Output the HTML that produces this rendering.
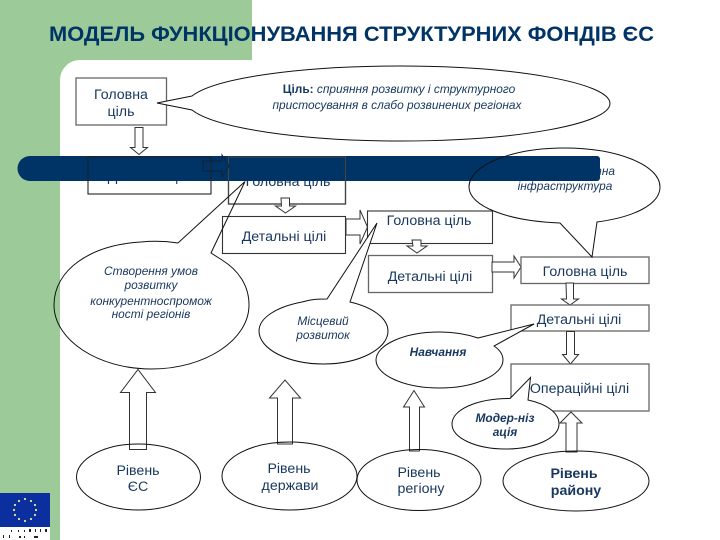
<!DOCTYPE html>
<html><head><meta charset="utf-8"><style>
html,body{margin:0;padding:0;background:#fff}
svg{display:block}
text{font-family:"Liberation Sans",sans-serif;fill:#17375e;text-anchor:middle}
.b{font-size:14.2px}
.i{font-size:11.9px;font-style:italic}
.bi{font-size:11.9px;font-style:italic;font-weight:bold}
.o{fill:none;stroke:#111;stroke-width:1}
.g{fill:#fff;stroke:#666;stroke-width:1.3}
.k{fill:#fff;stroke:#333;stroke-width:1.1}
.ar{fill:#fff;stroke:#333;stroke-width:1}
</style></head><body>
<svg width="720" height="540" viewBox="0 0 720 540" xmlns="http://www.w3.org/2000/svg">
<rect x="0" y="0" width="60" height="540" fill="#9ccb99"/>
<rect x="0" y="0" width="252" height="60" fill="#9ccb99"/>
<path d="M60 60h20a20 20 0 0 0-20 20z" fill="#9ccb99"/>

<text x="351.5" y="41" style="font-size:21px;font-weight:bold;fill:#003366" textLength="605" lengthAdjust="spacingAndGlyphs">МОДЕЛЬ ФУНКЦІОНУВАННЯ СТРУКТУРНИХ ФОНДІВ ЄС</text>

<!-- logo -->
<rect x="0" y="493" width="50" height="34" fill="#0b2f9e"/>
<rect x="0" y="527" width="50" height="13" fill="#fff"/>
<g fill="#dfe98a"><circle cx="25" cy="499" r="1.1"/><circle cx="31" cy="501" r="1.1"/><circle cx="35" cy="505" r="1.1"/><circle cx="36" cy="510" r="1.1"/><circle cx="35" cy="515" r="1.1"/><circle cx="31" cy="519" r="1.1"/><circle cx="25" cy="521" r="1.1"/><circle cx="19" cy="519" r="1.1"/><circle cx="15" cy="515" r="1.1"/><circle cx="14" cy="510" r="1.1"/><circle cx="15" cy="505" r="1.1"/><circle cx="19" cy="501" r="1.1"/></g>
<g fill="#222"><rect x="11" y="530" width="1" height="2"/><rect x="18" y="530" width="1" height="2"/><rect x="24" y="530" width="1" height="2"/><rect x="29" y="529" width="2" height="3"/><rect x="35" y="529" width="1" height="3"/><rect x="40" y="529" width="1" height="3"/><rect x="45" y="529" width="2" height="3"/><rect x="3" y="535" width="1" height="3"/><rect x="9" y="535" width="1" height="3"/><rect x="19" y="536" width="2" height="2"/><rect x="24" y="536" width="1" height="2"/><rect x="34" y="536" width="4" height="2"/></g>

<!-- top -->
<rect class="g" x="76" y="78" width="90.5" height="47"/>
<text class="b" x="121" y="99">Головна</text>
<text class="b" x="121" y="116">ціль</text>
<path class="ar" d="M135 127.5h8v20h4.5l-8.500 7-8.500-7h4.500z"/>
<path class="o" style="fill:#fff" d="M157 103L192 96C215 78 300 66 400 66C516 66 610 83 610 103.500C610 124 516 141 400 141C300 141 215 128 192 110Z"/>
<text class="i" x="399" y="93"><tspan style="font-weight:bold;font-style:normal">Ціль: </tspan>сприяння розвитку і структурного</text>
<text class="i" x="397" y="109">пристосування в слабо розвинених регіонах</text>

<!-- boxes beneath the bar -->
<rect class="k" x="88" y="157" width="123" height="37"/>
<text class="b" x="150" y="181">Детальні цілі</text>
<rect class="g" x="228.500" y="157" width="117" height="47"/>
<text class="b" x="288" y="186">Головна ціль</text>
<text class="i" x="615" y="175" style="text-anchor:end">Транспортна</text>
<text class="i" x="565" y="190">інфраструктура</text>

<!-- bar -->
<path d="M30 156H597a3 3 0 0 1 3 3V178a3 3 0 0 1-3 3H30a12.500 12.500 0 0 1 0-25z" fill="#003366"/>

<!-- outlines over bar -->
<rect x="88" y="157" width="123" height="37" fill="none" stroke="#222" stroke-width="1"/>
<rect x="228.500" y="157" width="117" height="47" fill="none" stroke="#444" stroke-width="1.200"/>
<path d="M203 161h19v-6l7 11-7 11v-6h-19z" fill="none" stroke="#11223a" stroke-width="1"/>

<!-- chain -->
<path class="ar" d="M281 198h8.500v8h6l-10 7-10-7h6z"/>
<rect class="k" x="222.500" y="216.500" width="123" height="37"/>
<text class="b" x="284" y="241">Детальні цілі</text>
<path class="ar" d="M346 219h14v-9l7.500 17-7.500 17v-9h-14z"/>
<rect class="k" x="367.500" y="211" width="125" height="32.500"/>
<text class="b" x="429" y="225">Головна ціль</text>
<path class="ar" d="M412 240h9v6h6l-10 7-10-7h6z"/>
<rect class="g" x="368.500" y="255.500" width="124" height="37"/>
<text class="b" x="430" y="281">Детальні цілі</text>
<path class="ar" d="M492 262h22v-6l7 11-7 11v-6h-22z"/>
<rect class="g" x="521" y="257" width="128" height="26.500"/>
<text class="b" x="585" y="276">Головна ціль</text>
<path class="ar" d="M566 283h7.500v16h5l-8.500 6-8.500-6h5z"/>
<rect class="g" x="511" y="305" width="138" height="26"/>
<text class="b" x="579" y="324">Детальні цілі</text>
<path class="ar" d="M566.500 331.500h8v23h4l-8 9.500-8-9.500h4z"/>
<rect class="g" x="511" y="364" width="138" height="47"/>

<!-- callouts -->
<path class="o" d="M178 243C165 241 151 241 141 242C90 245 54 270 54 305C54 340 98 369 151.500 369C205 369 249 340 249 305C249 285 238 270 222 260L211 253L245 181.500Z"/>
<text class="i" x="151" y="275">Створення умов</text>
<text class="i" x="151" y="289">розвитку</text>
<text class="i" x="151" y="305">конкурентноспромож</text>
<text class="i" x="151" y="318">ності регіонів</text>

<path class="o" style="fill:#fff" d="M327 299C318 299 312 299 302 302C276 307 259 318 259 331C259 349 288 364 323.500 364C359 364 388 349 388 331C388 318 372 307 350 302L377 223Z"/>
<text class="i" x="323" y="325">Місцевий</text>
<text class="i" x="323" y="339">розвиток</text>

<path class="o" d="M469 187C469 165 512 148 564.500 148C617 148 660 165 660 187C660 204 635 217 597 222L592 257L560 223C507 221 469 206 469 187Z"/>

<path class="o" style="fill:#fff" d="M478 338L534 324L494 346C500 350 503 355 503 360C503 375 475 388 439.500 388C404 388 376 375 376 360C376 345 404 332 439.500 332C455 332 466 334 478 338Z"/>
<text class="bi" x="438" y="356">Навчання</text>

<path class="o" style="fill:#fff" d="M510 398.500L530.500 377.500L528 400C547 404 559 413 559 424C559 438 535 449 505.500 449C476 449 452 438 452 424C452 410 476 398.500 510 398.500Z"/>
<text class="bi" x="505" y="422">Модер-ніз</text>
<text class="bi" x="505" y="436">ація</text>
<text class="b" x="579.500" y="393">Операційні цілі</text>

<!-- up arrows -->
<path class="ar" d="M129.500 449.500V392.500H120.500L138 369.500L155.500 392.500H146.500V449.500Z"/>
<path class="ar" d="M277.500 444V398H269.500L285 380L300.500 398H292.500V444Z"/>
<path class="ar" d="M409.500 451V407H403.500L414 390.500L424.500 407H419.500V451Z"/>
<path class="ar" d="M566 452V423H560L571 412L582 423H577V452Z"/>

<!-- level ellipses -->
<ellipse class="o" cx="138.500" cy="477" rx="62" ry="33"/>
<text class="b" x="138" y="475">Рівень</text>
<text class="b" x="138" y="491">ЄС</text>
<ellipse class="o" cx="289.500" cy="476" rx="67.500" ry="34"/>
<text class="b" x="289" y="473">Рівень</text>
<text class="b" x="290" y="490">держави</text>
<ellipse class="o" cx="419" cy="480" rx="62" ry="30.500"/>
<text class="b" x="419" y="477">Рівень</text>
<text class="b" x="421" y="493">регіону</text>
<ellipse class="o" cx="576" cy="481" rx="73" ry="30"/>
<text class="b" x="574" y="478" style="font-weight:bold">Рівень</text>
<text class="b" x="576" y="495" style="font-weight:bold">району</text>
</svg>
</body></html>
